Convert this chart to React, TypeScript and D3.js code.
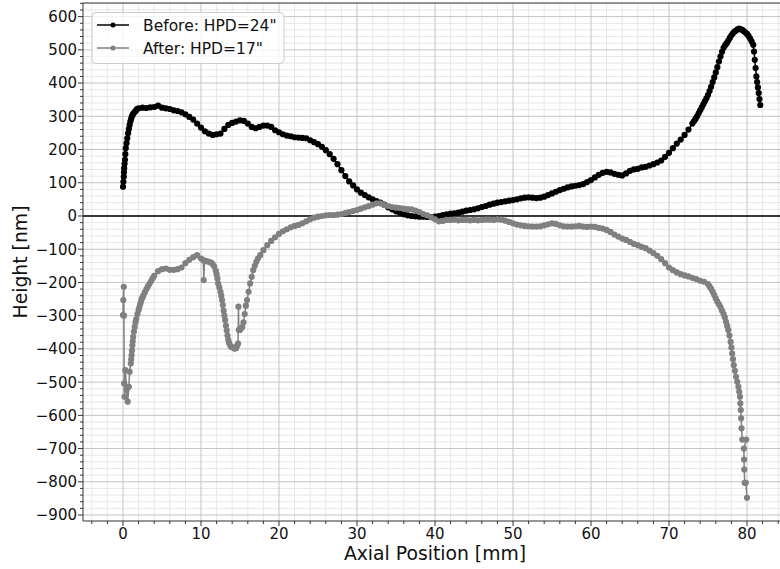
import * as d3 from 'd3';

// Before: HPD=24" (black)
const beforeHead: [number, number][] = [
  [0, 88], [0.05, 103], [0.1, 118], [0.12, 131], [0.15, 144], [0.2, 157], [0.25, 169],
  [0.3, 186], [0.35, 204], [0.45, 219], [0.55, 234], [0.65, 249], [0.75, 262], [0.85, 274],
  [0.95, 285], [1.05, 293], [1.15, 300], [1.25, 305], [1.35, 309], [1.5, 313], [1.65, 317], [1.8, 322],
];
// sampled every 0.5 mm from 2.0 to 72.5
const beforeBody: number[] = [
  324, 326, 325, 327, 328, 332, 326, 324, 322, 318, 316, 312, 306, 298, 290, 278,
  266, 255, 248, 244, 246, 248, 262, 274, 280, 284, 288, 286, 278, 268, 264, 268,
  272, 272, 268, 258, 252, 246, 242, 240, 237, 236, 235, 234, 228, 222, 216, 208,
  198, 186, 172, 156, 138, 120, 104, 92, 80, 70, 63, 56, 50, 45, 40, 34,
  26, 20, 14, 10, 5, 2, 0, -1, -2, -2, -3, -3, -2, 0, 3, 5,
  7, 8, 10, 13, 16, 18, 20, 23, 27, 30, 34, 37, 40, 42, 44, 46,
  48, 50, 53, 55, 56, 55, 54, 55, 58, 63, 68, 73, 78, 82, 86, 89,
  91, 93, 96, 102, 108, 116, 124, 130, 133, 131, 127, 124, 122, 128, 136, 140,
  142, 146, 148, 152, 156, 161, 167, 178, 190, 204, 218, 230, 244, 260,
];
const beforeTail: [number, number][] = [
  [73.0, 278], [73.2, 285], [73.4, 292], [73.6, 300], [73.8, 309], [74.0, 318], [74.2, 327],
  [74.4, 336], [74.6, 345], [74.8, 354], [75.0, 364], [75.2, 376], [75.4, 389], [75.6, 403],
  [75.8, 417], [76.0, 432], [76.2, 448], [76.4, 465], [76.6, 480], [76.8, 494], [77.0, 506],
  [77.2, 514], [77.4, 520], [77.6, 528], [77.8, 536], [78.0, 544], [78.2, 550], [78.4, 555],
  [78.6, 558], [78.8, 562], [79.0, 564], [79.2, 562], [79.4, 560], [79.6, 556], [79.8, 552],
  [80.0, 548], [80.2, 542], [80.4, 534], [80.6, 525], [80.8, 515], [80.9, 495], [81.0, 470],
  [81.1, 445], [81.2, 420], [81.3, 403], [81.4, 387], [81.5, 370], [81.6, 352], [81.7, 334],
];

// After: HPD=17" (gray)
const afterHead: [number, number][] = [
  [0, -298], [0.04, -253], [0.1, -213], [0.12, -300], [0.15, -504], [0.2, -544], [0.3, -464],
  [0.45, -524], [0.6, -559], [0.75, -514], [0.85, -469], [1.0, -444], [1.05, -432], [1.1, -419],
  [1.15, -405], [1.2, -390], [1.25, -377], [1.3, -364], [1.4, -348], [1.5, -334], [1.6, -320],
  [1.7, -310], [1.85, -295], [2.0, -283], [2.1, -275], [2.2, -266], [2.3, -258], [2.4, -250],
  [2.5, -245], [2.6, -240], [2.8, -230], [3.0, -220], [3.2, -212], [3.4, -204], [3.6, -196],
  [3.8, -188], [4.0, -180],
];
// sampled every 0.5 mm from 4.5 to 10.0
const afterBodyA: number[] = [-166, -160, -158, -162, -162, -160, -155, -142, -132, -124, -118, -128];
const afterMid: [number, number][] = [
  [10.3, -133], [10.35, -193], [10.45, -135], [10.7, -136], [11.0, -138], [11.3, -140],
  [11.5, -145], [11.7, -152], [11.9, -165], [12.0, -175], [12.1, -188], [12.2, -203],
  [12.35, -215], [12.5, -228], [12.6, -240], [12.7, -253], [12.8, -268], [12.9, -285],
  [13.0, -300], [13.1, -313], [13.2, -330], [13.3, -345], [13.4, -360], [13.5, -373],
  [13.6, -382], [13.75, -390], [13.9, -394], [14.1, -396], [14.3, -399], [14.5, -398],
  [14.65, -390], [14.75, -384], [14.8, -273], [14.85, -343], [15.0, -343], [15.15, -338],
  [15.3, -334], [15.45, -320], [15.6, -295], [15.75, -270], [15.9, -253], [16.1, -228],
  [16.3, -203], [16.5, -183], [16.7, -163], [16.9, -150], [17.1, -138], [17.3, -128], [17.6, -118],
];
// sampled every 0.5 mm from 18.0 to 75.0
const afterBodyB: number[] = [
  -103, -88, -75, -64, -54, -46, -40, -34, -30, -27, -22, -16,
  -10, -5, -2, 0, 2, 3, 3, 4, 6, 9, 12, 15, 18, 22, 26, 30,
  34, 38, 38, 33, 30, 27, 25, 24, 22, 21, 20, 16, 12, 6, 2, -4,
  -10, -16, -15, -12, -12, -11, -13, -12, -12, -13, -12, -13, -12, -11, -11, -12,
  -10, -11, -14, -18, -22, -26, -28, -30, -31, -32, -32, -31, -28, -25, -22, -24,
  -28, -31, -32, -32, -31, -30, -32, -33, -32, -33, -36, -38, -42, -48, -56, -62,
  -68, -72, -78, -84, -88, -93, -97, -104, -112, -120, -130, -142, -155, -163, -170, -175,
  -179, -182, -186, -190, -195, -198, -205,
];
const afterTail: [number, number][] = [
  [75.2, -212], [75.4, -219], [75.6, -228], [75.8, -238], [76.0, -248], [76.2, -258],
  [76.4, -266], [76.6, -274], [76.8, -285], [77.0, -295], [77.15, -305], [77.3, -318],
  [77.45, -330], [77.6, -343], [77.75, -360], [77.9, -379], [78.0, -396], [78.1, -414],
  [78.2, -431], [78.3, -449], [78.45, -466], [78.6, -484], [78.75, -499], [78.9, -514],
  [79.0, -529], [79.1, -544], [79.15, -564], [79.2, -584], [79.25, -609], [79.3, -639],
  [79.4, -673], [79.9, -673], [79.6, -700], [79.62, -733], [79.65, -763], [79.7, -803],
  [79.85, -803], [80.0, -848],
];

const xTicks = [0, 10, 20, 30, 40, 50, 60, 70, 80];
const yTicks = [600, 500, 400, 300, 200, 100, 0, -100, -200, -300, -400, -500, -600, -700, -800, -900];
const legendLabels = ['Before: HPD=24"', 'After: HPD=17"'];

const sampled = (start: number, step: number, ys: number[]): [number, number][] =>
  ys.map((v, i) => [start + i * step, v]);

const before: [number, number][] = [...beforeHead, ...sampled(2, 0.5, beforeBody), ...beforeTail];
const after: [number, number][] = [
  ...afterHead, ...sampled(4.5, 0.5, afterBodyA), ...afterMid, ...sampled(18, 0.5, afterBodyB), ...afterTail,
];

const W = 780;
const H = 569;
const L = 83, R = 787, T = 3, B = 521;
const FONT = '"DejaVu Sans", sans-serif';

const App = () => {
  const x = d3.scaleLinear().domain([-5.128, 85.128]).range([L, R]);
  const y = d3.scaleLinear().domain([-918, 641]).range([B, T]);
  const line = d3.line<[number, number]>().x((d) => x(d[0])).y((d) => y(d[1]));

  const xMinor = d3.range(-4, 86, 2).filter((v) => v % 10 !== 0);
  const yMinor = d3.range(-900, 641, 20).filter((v) => v % 100 !== 0);
  const fmt = (v: number) => (v < 0 ? '\u2212' + Math.abs(v) : String(v));

  const series = [
    { data: before, color: '#000000' },
    { data: after, color: '#808080' },
  ];

  return (
    <svg width={W} height={H} style={{ position: 'absolute', left: 0, top: 0, background: '#fff' }}
      fontFamily={FONT}>
      <defs>
        <clipPath id="plot">
          <rect x={L} y={T} width={R - L} height={B - T} />
        </clipPath>
      </defs>
      <rect x={0} y={0} width={W} height={H} fill="#fff" />

      {/* minor grid */}
      <g stroke="#e4e4e4" strokeWidth={0.9}>
        {xMinor.map((v) => <line key={'xm' + v} x1={x(v)} x2={x(v)} y1={T} y2={B} />)}
        {yMinor.map((v) => <line key={'ym' + v} x1={L} x2={R} y1={y(v)} y2={y(v)} />)}
      </g>
      {/* major grid */}
      <g stroke="#c4c4c4" strokeWidth={1}>
        {xTicks.map((v) => <line key={'xg' + v} x1={x(v)} x2={x(v)} y1={T} y2={B} />)}
        {yTicks.map((v) => <line key={'yg' + v} x1={L} x2={R} y1={y(v)} y2={y(v)} />)}
      </g>

      <line x1={L} x2={R} y1={y(0)} y2={y(0)} stroke="#000" strokeWidth={1.5} />

      <g clipPath="url(#plot)">
        {series.map((s, i) => (
          <g key={i}>
            <path d={line(s.data) ?? ''} fill="none" stroke={s.color} strokeWidth={1.5} />
            <g fill={s.color}>
              {s.data.map((d, j) => <circle key={j} cx={x(d[0])} cy={y(d[1])} r={3.1} />)}
            </g>
          </g>
        ))}
      </g>

      {/* spines */}
      <g stroke="#333" strokeWidth={1} fill="none">
        <line x1={L} x2={L} y1={T} y2={B} />
        <line x1={L} x2={R} y1={B} y2={B} />
        <line x1={L} x2={R} y1={T} y2={T} />
        <line x1={R} x2={R} y1={T} y2={B} />
      </g>

      {/* ticks */}
      <g stroke="#333" strokeWidth={1}>
        {xTicks.map((v) => <line key={'xt' + v} x1={x(v)} x2={x(v)} y1={B} y2={B + 5} />)}
        {xMinor.map((v) => <line key={'xmt' + v} x1={x(v)} x2={x(v)} y1={B} y2={B + 3} />)}
        {yTicks.map((v) => <line key={'yt' + v} x1={L} x2={L - 5} y1={y(v)} y2={y(v)} />)}
        {yMinor.map((v) => <line key={'ymt' + v} x1={L} x2={L - 3} y1={y(v)} y2={y(v)} />)}
      </g>
      <g fontSize={15} fill="#111">
        {xTicks.map((v) => (
          <text key={'xl' + v} x={x(v)} y={539} textAnchor="middle">{fmt(v)}</text>
        ))}
        {yTicks.map((v) => (
          <text key={'yl' + v} x={77} y={y(v)} dy="0.36em" textAnchor="end">{fmt(v)}</text>
        ))}
      </g>

      <text x={435} y={560} textAnchor="middle" fontSize={18.8} fill="#111">Axial Position [mm]</text>
      <text transform={`translate(27,${(T + B) / 2}) rotate(-90)`} textAnchor="middle" fontSize={18.8} fill="#111">
        Height [nm]
      </text>

      {/* legend */}
      <g>
        <rect x={92} y={12.5} width={192} height={51} rx={4} fill="#fff" fillOpacity={0.8} stroke="#cccccc" />
        {legendLabels.map((lab, i) => {
          const ly = 25 + i * 23;
          const c = series[i].color;
          return (
            <g key={lab}>
              <line x1={97} x2={129} y1={ly} y2={ly} stroke={c} strokeWidth={1.5} />
              <circle cx={113} cy={ly} r={2.5} fill={c} />
              <text x={143} y={ly} dy="0.36em" fontSize={15.5} fill="#111">{lab}</text>
            </g>
          );
        })}
      </g>
    </svg>
  );
};

export default App;
